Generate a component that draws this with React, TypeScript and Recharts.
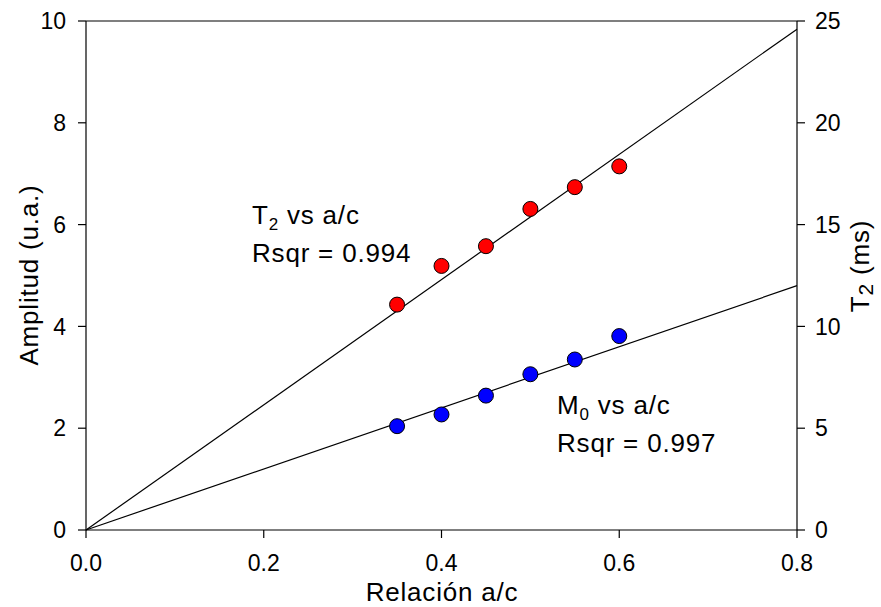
import React from "react";
import { ScatterChart, Scatter, XAxis, YAxis, ReferenceLine } from "recharts";

const acRatio = [0.35, 0.4, 0.45, 0.5, 0.55, 0.6];
const t2Values = [11.07, 12.97, 13.94, 15.77, 16.84, 17.86];
const m0Values = [2.04, 2.27, 2.64, 3.06, 3.35, 3.81];

const fitX = [0, 0.8];
const t2Fit = [0, 24.6];
const m0Fit = [0, 4.8];

const xTicks = [0, 0.2, 0.4, 0.6, 0.8];
const leftTicks = [0, 2, 4, 6, 8, 10];
const rightTicks = [0, 5, 10, 15, 20, 25];

const W = 881;
const H = 607;
const FONT = "'Liberation Sans', Arial, sans-serif";

const t2Points = acRatio.map((x, i) => ({ x, y: t2Values[i] }));
const m0Points = acRatio.map((x, i) => ({ x, y: m0Values[i] }));
const t2Line = fitX.map((x, i) => ({ x, y: t2Fit[i] }));
const m0Line = fitX.map((x, i) => ({ x, y: m0Fit[i] }));

const tickStyle = { fill: "#000", fontSize: 23, fontFamily: FONT };
const axisLine = { stroke: "#000", strokeWidth: 1.2 };

function dot(fill: string) {
  return (props: any) => (
    <circle cx={props.cx} cy={props.cy} r={7.5} fill={fill} stroke="#000" strokeWidth={1} />
  );
}

const noDot = () => <g />;

export default function App() {
  return (
    <div style={{ position: "absolute", left: 0, top: 0, width: W, height: H, background: "#fff" }}>
      <ScatterChart width={W} height={H} margin={{ top: 21, right: 0, bottom: 0, left: 0 }}>
        <XAxis
          type="number"
          dataKey="x"
          domain={[0, 0.8]}
          ticks={xTicks}
          tickFormatter={(v: number) => v.toFixed(1)}
          height={77}
          tick={tickStyle}
          tickSize={8}
          tickMargin={17}
          axisLine={axisLine}
          tickLine={axisLine}
        />
        <YAxis
          yAxisId="left"
          type="number"
          dataKey="y"
          domain={[0, 10]}
          ticks={leftTicks}
          width={86}
          tick={tickStyle}
          tickSize={8}
          tickMargin={12}
          axisLine={axisLine}
          tickLine={axisLine}
        />
        <YAxis
          yAxisId="right"
          orientation="right"
          type="number"
          dataKey="y"
          domain={[0, 25]}
          ticks={rightTicks}
          width={84}
          tick={tickStyle}
          tickSize={8}
          tickMargin={10}
          axisLine={axisLine}
          tickLine={axisLine}
        />
        <ReferenceLine yAxisId="left" y={10} stroke="#000" strokeWidth={1.2} />
        <Scatter
          yAxisId="right"
          data={t2Line}
          line={{ stroke: "#000", strokeWidth: 1.2 }}
          shape={noDot}
          isAnimationActive={false}
        />
        <Scatter
          yAxisId="left"
          data={m0Line}
          line={{ stroke: "#000", strokeWidth: 1.2 }}
          shape={noDot}
          isAnimationActive={false}
        />
        <Scatter yAxisId="right" data={t2Points} shape={dot("#ff0000")} isAnimationActive={false} />
        <Scatter yAxisId="left" data={m0Points} shape={dot("#0000ff")} isAnimationActive={false} />
      </ScatterChart>
      <svg
        width={W}
        height={H}
        style={{ position: "absolute", left: 0, top: 0, pointerEvents: "none" }}
        fontFamily={FONT}
        fontSize={26}
        letterSpacing={0.8}
        fill="#000"
      >
        <text x={442} y={601} textAnchor="middle">
          Relación a/c
        </text>
        <text x={0} y={0} transform="translate(38,275) rotate(-90)" textAnchor="middle">
          Amplitud (u.a.)
        </text>
        <text x={0} y={0} transform="translate(869,266) rotate(-90)" textAnchor="middle">
          T<tspan fontSize={21} dy={4}>2</tspan>
          <tspan dy={-4}> (ms)</tspan>
        </text>
        <text x={252} y={224}>
          T<tspan fontSize={17} dy={6}>2</tspan>
          <tspan dy={-6}> vs a/c</tspan>
        </text>
        <text x={252} y={262}>
          Rsqr = 0.994
        </text>
        <text x={557} y={414}>
          M<tspan fontSize={17} dy={6}>0</tspan>
          <tspan dy={-6}> vs a/c</tspan>
        </text>
        <text x={557} y={452}>
          Rsqr = 0.997
        </text>
      </svg>
    </div>
  );
}
